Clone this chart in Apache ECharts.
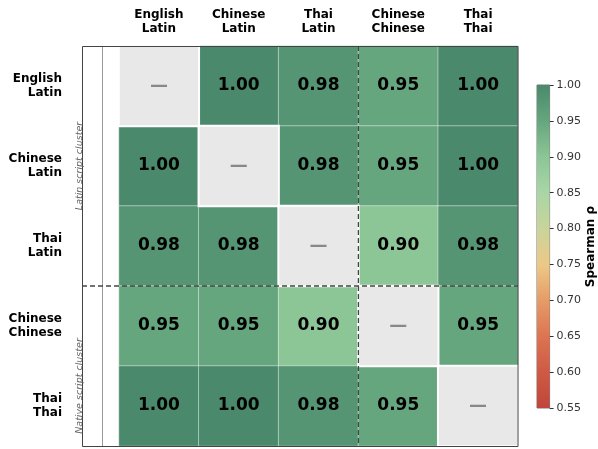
<!DOCTYPE html>
<html>
<head>
<meta charset="utf-8">
<script src="https://cdn.jsdelivr.net/npm/echarts@6/dist/echarts.min.js"></script>
<style>
  html, body { margin: 0; padding: 0; background: #fff; }
  #chart { width: 598px; height: 449px; }
</style>
</head>
<body>
<div id="chart"></div>
<script>
// 语言/文字组合
var labels = ['English\nLatin', 'Chinese\nLatin', 'Thai\nLatin', 'Chinese\nChinese', 'Thai\nThai'];
// Spearman rho 矩阵 (对角线为空)
var rho = [
  [null, 1.00, 0.98, 0.95, 1.00],
  [1.00, null, 0.98, 0.95, 1.00],
  [0.98, 0.98, null, 0.90, 0.98],
  [0.95, 0.95, 0.90, null, 0.95],
  [1.00, 1.00, 0.98, 0.95, null]
];
var clusterNames = ['Latin script cluster', 'Native script cluster'];
var rhoMin = 0.55, rhoMax = 1.00, rhoStep = 0.05;
var palette = ['#c0453b', '#cf5a44', '#dd7452', '#e69c68', '#ecc987',
               '#c9d49b', '#a9d6a6', '#8cc596', '#66a67e', '#4a896b'];

var FONT = 'DejaVu Sans';
var L = 119, T = 46, W = 399, H = 400, STRIP = 82;

var cells = [], diag = [];
for (var r = 0; r < rho.length; r++) {
  for (var c = 0; c < rho[r].length; c++) {
    if (rho[r][c] == null) {
      diag.push([c, r, 0]);
    } else {
      cells.push([c, r, rho[r][c]]);
    }
  }
}

var stops = palette.map(function (col, i) {
  return { offset: i / (palette.length - 1), color: col };
});

var myChart = echarts.init(document.getElementById('chart'));

var splitX = L + W * 3 / 5;
var splitY = T + H * 3 / 5;

var option = {
  animation: false,
  grid: [
    { left: L, top: T, width: W, height: H },
    { left: 537, top: 85, width: 16, height: 323, show: true, borderColor: '#555', borderWidth: 0.8, backgroundColor: 'transparent' }
  ],
  xAxis: [{
    gridIndex: 0,
    type: 'category',
    position: 'top',
    data: labels,
    axisLine: { show: false },
    axisTick: { show: false },
    axisLabel: { fontFamily: FONT, fontWeight: 'bold', fontSize: 12, lineHeight: 14, color: '#000', margin: 10 }
  }, {
    gridIndex: 1,
    type: 'category',
    data: ['cb'],
    show: false
  }],
  yAxis: [{
    gridIndex: 0,
    type: 'category',
    inverse: true,
    data: labels,
    axisLine: { show: false },
    axisTick: { show: false },
    axisLabel: { fontFamily: FONT, fontWeight: 'bold', fontSize: 12, lineHeight: 14, color: '#000', margin: 57, padding: [3, 0, 0, 0] }
  }, {
    gridIndex: 1,
    type: 'value',
    position: 'right',
    min: rhoMin,
    max: rhoMax,
    interval: rhoStep,
    splitLine: { show: false },
    axisLine: { show: false },
    axisTick: { show: true, length: 4, lineStyle: { color: '#333' } },
    axisLabel: {
      fontFamily: FONT, fontSize: 11, color: '#333', margin: 7,
      formatter: function (v) { return v.toFixed(2); }
    },
    name: 'Spearman ρ',
    nameLocation: 'middle',
    nameGap: 35,
    nameTextStyle: { fontFamily: FONT, fontWeight: 'bold', fontSize: 12, color: '#000' }
  }],
  visualMap: {
    type: 'continuous',
    show: false,
    min: rhoMin,
    max: rhoMax,
    seriesIndex: 0,
    inRange: { color: palette }
  },
  series: [{
    type: 'heatmap',
    xAxisIndex: 0,
    yAxisIndex: 0,
    data: cells,
    itemStyle: { borderColor: 'rgba(255,255,255,0.45)', borderWidth: 1 },
    label: {
      show: true,
      fontFamily: FONT, fontWeight: 'bold', fontSize: 17, color: '#000',
      formatter: function (p) { return p.value[2].toFixed(2); }
    },
    emphasis: { disabled: true }
  }, {
    type: 'heatmap',
    xAxisIndex: 0,
    yAxisIndex: 0,
    data: diag,
    itemStyle: { color: '#e8e8e8', borderColor: '#fff', borderWidth: 2 },
    label: {
      show: true,
      fontFamily: FONT, fontWeight: 'bold', fontSize: 18, color: '#888',
      formatter: function () { return '—'; }
    },
    emphasis: { disabled: true }
  }, {
    // 色标
    type: 'bar',
    xAxisIndex: 1,
    yAxisIndex: 1,
    stack: 'cb',
    barWidth: '100%',
    data: [rhoMin],
    itemStyle: { color: 'transparent' },
    silent: true
  }, {
    type: 'bar',
    xAxisIndex: 1,
    yAxisIndex: 1,
    stack: 'cb',
    barWidth: '100%',
    data: [+(rhoMax - rhoMin).toFixed(2)],
    itemStyle: { color: { type: 'linear', x: 0, y: 1, x2: 0, y2: 0, colorStops: stops } },
    silent: true
  }],
  graphic: [
    {
      type: 'line', z: 100, silent: true,
      shape: { x1: 102.5, y1: T, x2: 102.5, y2: T + H },
      style: { stroke: '#999', lineWidth: 1 }
    },
    {
      type: 'rect', z: 100, silent: true,
      shape: { x: STRIP + 0.5, y: T + 0.5, width: L + W - STRIP - 0.5, height: H },
      style: { fill: null, stroke: '#444', lineWidth: 1 }
    },
    {
      type: 'line', z: 101, silent: true,
      shape: { x1: splitX, y1: T, x2: splitX, y2: T + H },
      style: { stroke: '#444', lineWidth: 1.3, lineDash: [5, 3] }
    },
    {
      type: 'line', z: 101, silent: true,
      shape: { x1: STRIP, y1: splitY, x2: L + W, y2: splitY },
      style: { stroke: '#444', lineWidth: 1.3, lineDash: [5, 3] }
    },
    {
      type: 'text', z: 102, silent: true,
      x: 80, y: T + H * 1.5 / 5, rotation: Math.PI / 2,
      style: { text: clusterNames[0], fill: '#666', font: 'italic 9.5px "DejaVu Sans"', align: 'center', verticalAlign: 'middle' }
    },
    {
      type: 'text', z: 102, silent: true,
      x: 80, y: T + H * 4.25 / 5, rotation: Math.PI / 2,
      style: { text: clusterNames[1], fill: '#666', font: 'italic 9.5px "DejaVu Sans"', align: 'center', verticalAlign: 'middle' }
    }
  ]
};

myChart.setOption(option);
</script>
</body>
</html>
